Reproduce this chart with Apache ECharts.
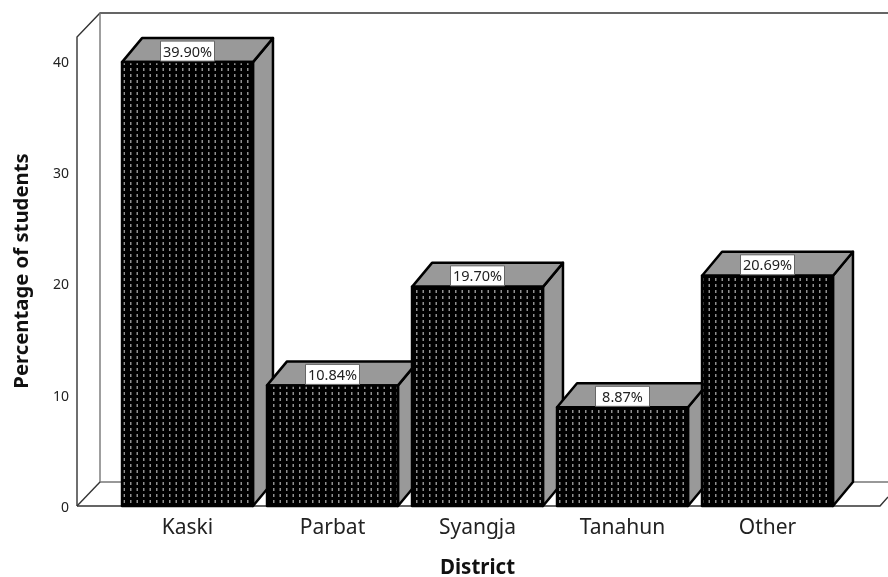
<!DOCTYPE html>
<html>
<head>
<meta charset="utf-8">
<style>
  html, body { margin: 0; padding: 0; background: #fff; }
  #chart { width: 888px; height: 577px; }
</style>
<script src="https://cdn.jsdelivr.net/npm/echarts@6/dist/echarts.min.js"></script>
</head>
<body>
<div id="chart"></div>
<script>
const districts = ["Kaski", "Parbat", "Syangja", "Tanahun", "Other"]
const percentages = [39.9, 10.84, 19.7, 8.87, 20.69]
const percentLabels = ["39.90%", "10.84%", "19.70%", "8.87%", "20.69%"]
const yTicks = [0, 10, 20, 30, 40]

const depthX = 20
const depthY = 24
const fontFamily = "'Noto Sans', sans-serif"

// the bars' fill: faint grey dots on black, 6.5px apart across, 6px down
function dotPattern() {
  const tile = document.createElement("canvas")
  tile.width = 13
  tile.height = 6
  const ctx = tile.getContext("2d")
  ctx.fillStyle = "#000"
  ctx.fillRect(0, 0, 13, 6)
  ctx.fillStyle = "#909090"
  ctx.fillRect(0, 2, 1.5, 3)
  ctx.fillRect(6.5, 2, 1.5, 3)
  return { type: "pattern", image: tile, repeat: "repeat" }
}

const barFill = dotPattern()

function renderBar(params, api) {
  const index = api.value(0)
  const base = api.coord([index, 0])
  const top = api.coord([index, api.value(1)])
  const width = api.size([1, 0])[0] * 0.903
  const left = base[0] - width / 2
  const right = base[0] + width / 2
  const edge = { stroke: "#000", lineWidth: 2.5, lineJoin: "round" }
  const polygon = (points, fill) => ({
    type: "polygon",
    shape: { points },
    style: { ...edge, fill }
  })

  return {
    type: "group",
    children: [
      polygon([[right, base[1]], [right + depthX, base[1] - depthY], [right + depthX, top[1] - depthY], [right, top[1]]], "#999"),
      polygon([[left, top[1]], [left + depthX, top[1] - depthY], [right + depthX, top[1] - depthY], [right, top[1]]], "#999"),
      polygon([[left, base[1]], [left, top[1]], [right, top[1]], [right, base[1]]], barFill),
      {
        type: "rect",
        shape: { x: base[0] - 27, y: top[1] - 21, width: 54, height: 20 },
        style: { fill: "#fff", stroke: "#666", lineWidth: 1 }
      },
      {
        type: "text",
        style: {
          x: base[0],
          y: top[1] - 9.5,
          text: percentLabels[index],
          align: "center",
          verticalAlign: "middle",
          fill: "#222",
          font: "14.5px " + fontFamily
        }
      }
    ]
  }
}

function frameLine(points, color) {
  return {
    type: "polyline",
    shape: { points },
    style: { stroke: color, lineWidth: 1.4, fill: null }
  }
}

const chart = echarts.init(document.getElementById("chart"), null, { renderer: "canvas" })

chart.setOption({
  animation: false,
  backgroundColor: "#fff",
  graphic: [
    frameLine([[77, 506], [77, 37], [100, 13], [888, 13]], "#333"),
    frameLine([[100, 13], [100, 482], [888, 482]], "#777"),
    frameLine([[77, 506], [100, 482]], "#333"),
    frameLine([[77, 506], [880, 506], [888, 497]], "#333")
  ],
  grid: { left: 115, width: 725, top: 61, height: 445, outerBoundsMode: "none" },
  xAxis: {
    type: "category",
    data: districts,
    axisLine: { show: false },
    axisTick: { show: false },
    axisLabel: { fontFamily, fontSize: 21, color: "#222", margin: 12 },
    name: "District",
    nameLocation: "middle",
    nameGap: 52,
    nameTextStyle: { fontFamily, fontSize: 20.5, fontWeight: "bold", color: "#111" }
  },
  yAxis: {
    type: "value",
    min: yTicks[0],
    max: yTicks[yTicks.length - 1],
    interval: 10,
    offset: 38,
    splitLine: { show: false },
    axisLine: { show: false },
    axisTick: { show: false },
    axisLabel: {
      fontFamily,
      fontSize: 14,
      color: "#222",
      margin: 8,
      verticalAlign: "top",
      padding: [-5, 0, 0, 0]
    },
    name: "Percentage of students",
    nameLocation: "middle",
    nameGap: 45,
    nameTextStyle: { fontFamily, fontSize: 20.3, fontWeight: "bold", color: "#111", padding: [0, 0, 0, 25] }
  },
  series: [{
    type: "custom",
    renderItem: renderBar,
    clip: false,
    encode: { x: 0, y: 1 },
    data: percentages.map((value, index) => [index, value])
  }]
})
</script>
</body>
</html>
